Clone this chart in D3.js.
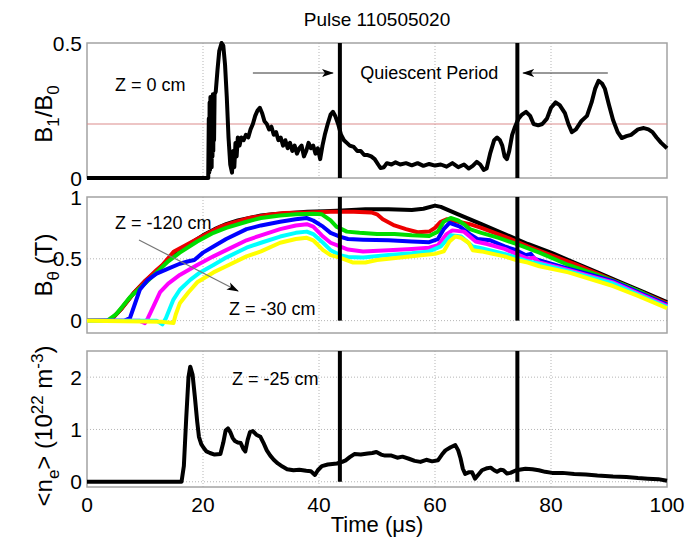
<!DOCTYPE html>
<html>
<head>
<meta charset="utf-8">
<script src="https://cdn.jsdelivr.net/npm/d3@7"></script>
<style>
body { margin: 0; background: #fff; }
text { font-family: "Liberation Sans", Arial, sans-serif; fill: #000; }
</style>
</head>
<body>
<svg id="chart"></svg>
<script>
// ---- data (time in microseconds) ----
const timeTicks = [0, 20, 40, 60, 80, 100];
const b1Ticks = [0, 0.5];
const bthTicks = [0, 0.5, 1];
const neTicks = [0, 1, 2];
const quiescentBounds = [43.6, 74.2];
const b1Threshold = 0.2;

// B1/B0 at Z = 0 cm
const b1Series = [[0,0],[20.9,0],[21.0,0.22],[21.07,0.02],[21.14,0.28],[21.21,0.03],[21.28,0.3],[21.35,0.05],[21.42,0.29],[21.49,0.04],[21.56,0.3],[21.63,0.08],[21.7,0.31],[21.77,0.1],[21.84,0.3],[21.91,0.14],[22.0,0.31],[22.2,0.32],[22.5,0.4],[22.8,0.47],[23.2,0.5],[23.5,0.49],[23.8,0.42],[24.1,0.3],[24.4,0.15],[24.7,0.05],[25.0,0.02],[25.2,0.1],[25.4,0.04],[25.6,0.13],[25.8,0.08],[26.0,0.15],[26.3,0.12],[26.6,0.15],[27.0,0.14],[27.4,0.16],[27.8,0.15],[28.2,0.18],[28.6,0.2],[29.0,0.23],[29.4,0.25],[29.8,0.26],[30.2,0.24],[30.6,0.21],[31.0,0.2],[31.4,0.18],[31.8,0.19],[32.2,0.16],[32.6,0.17],[33.0,0.14],[33.4,0.15],[33.8,0.12],[34.2,0.14],[34.6,0.11],[35.0,0.13],[35.4,0.1],[35.8,0.12],[36.2,0.09],[36.6,0.11],[37.0,0.12],[37.4,0.08],[37.8,0.1],[38.2,0.13],[38.6,0.11],[39.0,0.12],[39.4,0.09],[39.8,0.11],[40.2,0.07],[40.6,0.12],[41.0,0.16],[41.5,0.2],[42.0,0.235],[42.4,0.245],[42.8,0.23],[43.3,0.2],[43.8,0.16],[44.3,0.14],[44.8,0.13],[45.3,0.12],[46,0.115],[46.6,0.1],[47.2,0.1],[47.8,0.085],[48.4,0.085],[49,0.08],[49.6,0.07],[50.2,0.05],[50.6,0.037],[51.2,0.04],[51.7,0.055],[52.5,0.05],[53.2,0.058],[54,0.05],[55,0.055],[56,0.047],[57,0.055],[58,0.045],[59,0.052],[60,0.046],[61,0.05],[62,0.042],[63,0.055],[64,0.04],[65,0.05],[65.8,0.035],[66.5,0.045],[67.2,0.06],[67.8,0.05],[68.4,0.03],[68.9,0.035],[69.5,0.09],[70.2,0.14],[70.7,0.15],[71.2,0.14],[71.6,0.12],[72.0,0.08],[72.4,0.07],[72.8,0.1],[73.3,0.16],[73.8,0.19],[74.4,0.22],[75.0,0.235],[75.7,0.245],[76.4,0.23],[77.0,0.2],[77.8,0.195],[78.5,0.2],[79.3,0.22],[80.0,0.26],[80.8,0.28],[81.5,0.27],[82.4,0.24],[83.0,0.2],[83.6,0.17],[84.3,0.18],[85.2,0.21],[86.2,0.23],[87.0,0.28],[87.6,0.33],[88.2,0.36],[88.8,0.35],[89.3,0.33],[90.0,0.27],[90.7,0.215],[91.5,0.17],[92.2,0.148],[93,0.155],[93.8,0.16],[95,0.18],[96,0.185],[96.8,0.18],[97.5,0.17],[98.2,0.15],[99,0.13],[100,0.11]];

// B_theta for Z = -120 ... -30 cm
const bthBlack = [[0,0],[4,0],[6,0.1],[8,0.22],[10,0.32],[12,0.4],[14,0.49],[16,0.57],[18,0.63],[20,0.69],[22,0.74],[24,0.78],[26,0.81],[28,0.83],[30,0.85],[32,0.86],[35,0.87],[38,0.88],[41,0.885],[44,0.89],[48,0.9],[52,0.9],[56,0.895],[58,0.905],[60,0.93],[61,0.92],[64,0.86],[68,0.78],[72,0.7],[76,0.62],[80,0.55],[84,0.47],[88,0.39],[92,0.31],[96,0.23],[100,0.15]];
const bthRed = [[0,0],[4,0],[6,0.1],[8,0.22],[10,0.32],[12,0.41],[13,0.45],[15,0.56],[17,0.61],[19,0.66],[21,0.71],[23,0.76],[25,0.79],[28,0.83],[31,0.855],[34,0.87],[38,0.875],[42,0.88],[46,0.88],[49,0.875],[50,0.86],[51,0.82],[53,0.77],[55,0.74],[57,0.715],[59,0.72],[60,0.75],[61,0.8],[62,0.82],[64,0.8],[66,0.78],[68,0.75],[72,0.68],[76,0.6],[80,0.53],[84,0.46],[88,0.38],[92,0.3],[96,0.22],[100,0.14]];
const bthGreen = [[0,0],[3.5,0],[5,0.05],[7.4,0.19],[10,0.3],[12,0.39],[14,0.48],[16,0.55],[19,0.64],[21.8,0.71],[24,0.75],[27.5,0.8],[30,0.83],[33.3,0.85],[36,0.86],[39,0.865],[40.5,0.86],[42,0.81],[43,0.76],[44.8,0.72],[47,0.71],[50,0.7],[53,0.7],[56,0.69],[59,0.685],[60.5,0.72],[61.5,0.8],[62.7,0.83],[64,0.81],[65,0.78],[66,0.74],[68,0.71],[71,0.67],[74,0.62],[78,0.55],[83,0.45],[88,0.37],[92,0.3],[96,0.22],[100,0.13]];
const bthBlue = [[0,0],[6.5,0],[7.4,0.02],[8,0.1],[9.1,0.25],[10.5,0.33],[12,0.38],[14,0.42],[16,0.46],[17.5,0.48],[18.5,0.49],[20,0.55],[21.8,0.6],[24,0.66],[27.5,0.74],[30,0.77],[33.3,0.8],[36,0.82],[37.9,0.83],[39,0.81],[40.7,0.76],[42,0.71],[43.6,0.68],[45,0.66],[47.6,0.655],[52,0.65],[56,0.64],[59,0.635],[60.5,0.66],[61.5,0.74],[62.5,0.79],[64.3,0.76],[66,0.7],[67.3,0.66],[69.5,0.65],[72,0.6],[74,0.57],[75.6,0.53],[76.5,0.54],[77.2,0.5],[80,0.46],[83,0.42],[87,0.37],[90.7,0.32],[95,0.23],[100,0.13]];
const bthMagenta = [[0,0],[9,0],[10,-0.02],[10.5,0.02],[11.5,0.12],[12.6,0.23],[14,0.3],[16,0.37],[19,0.45],[21.8,0.52],[24,0.57],[27.5,0.65],[30,0.69],[33.3,0.74],[36,0.77],[37.9,0.78],[39,0.76],[40.7,0.68],[42,0.63],[43.6,0.6],[45,0.575],[47.6,0.56],[52,0.57],[56,0.58],[59,0.59],[60.5,0.61],[62,0.7],[63,0.73],[65,0.72],[66,0.68],[67,0.64],[69,0.62],[72,0.58],[74,0.54],[76,0.5],[77,0.51],[78,0.47],[83,0.41],[90.7,0.31],[95,0.22],[100,0.12]];
const bthCyan = [[0,0],[12,0],[13,-0.03],[13.6,0.02],[14.9,0.17],[16,0.25],[17.8,0.33],[19.5,0.39],[21.8,0.45],[24,0.51],[27.5,0.59],[30,0.63],[33.3,0.68],[36,0.71],[37.9,0.72],[39,0.7],[40.7,0.63],[42,0.57],[43.6,0.53],[45,0.515],[47.6,0.51],[52,0.53],[56,0.545],[59,0.56],[61,0.6],[62.7,0.69],[64.5,0.68],[65.5,0.64],[66.5,0.6],[68,0.585],[72,0.54],[74,0.51],[76,0.48],[78,0.46],[83,0.4],[90.7,0.3],[95,0.21],[100,0.11]];
const bthYellow = [[0,0],[13,-0.01],[14.9,-0.02],[15.3,0.05],[16,0.14],[17.5,0.23],[19,0.31],[21.8,0.39],[24,0.44],[27.5,0.52],[30,0.56],[33.3,0.63],[36,0.66],[37.9,0.67],[39,0.65],[40.7,0.57],[42,0.53],[43.6,0.51],[45.9,0.47],[48,0.47],[50,0.49],[54,0.51],[58,0.53],[60,0.54],[61.5,0.56],[62.5,0.64],[63.5,0.68],[64.5,0.67],[65.8,0.63],[66.5,0.57],[68,0.56],[72,0.52],[74,0.49],[76,0.47],[78,0.44],[83,0.39],[90.7,0.28],[95,0.2],[100,0.1]];
const bthColors = ["#000000", "#ee0000", "#00dd00", "#0000ff", "#ff00ff", "#00ffff", "#ffff00"];

// line-averaged density at Z = -25 cm
const neSeries = [[0,0],[16.3,0],[16.7,0.3],[17.1,1.2],[17.5,2.0],[17.8,2.2],[18.2,2.05],[18.6,1.62],[19.0,1.15],[19.3,0.86],[19.7,0.72],[20.1,0.65],[20.6,0.58],[21.2,0.55],[22.0,0.52],[23.0,0.53],[23.5,0.75],[23.9,0.98],[24.3,1.02],[24.7,0.95],[25.1,0.84],[25.5,0.78],[26.0,0.75],[26.5,0.74],[27.0,0.62],[27.3,0.58],[27.7,0.8],[28.1,0.95],[28.6,0.97],[29.2,0.9],[29.9,0.86],[30.4,0.75],[31.0,0.6],[31.6,0.5],[32.2,0.42],[32.9,0.35],[33.7,0.29],[34.5,0.24],[35.6,0.22],[36.6,0.23],[37.8,0.21],[38.6,0.2],[39.3,0.13],[39.8,0.22],[40.5,0.3],[41.5,0.33],[43.1,0.35],[44.0,0.38],[44.6,0.41],[45.3,0.47],[46.1,0.53],[47.2,0.52],[48.4,0.54],[49.2,0.55],[49.9,0.57],[50.7,0.52],[51.4,0.5],[52.5,0.5],[53.5,0.46],[54.4,0.48],[55.5,0.44],[56.5,0.4],[57.5,0.38],[58.5,0.42],[59.5,0.39],[60.5,0.41],[61.2,0.52],[61.8,0.6],[62.7,0.66],[63.5,0.7],[64.0,0.6],[64.4,0.45],[64.8,0.25],[65.2,0.15],[65.8,0.18],[66.4,0.18],[66.9,0.06],[67.5,0.14],[68.1,0.22],[69.0,0.26],[69.6,0.27],[70.2,0.22],[70.7,0.19],[71.3,0.23],[71.8,0.22],[72.4,0.16],[73.0,0.17],[74.0,0.22],[75.6,0.25],[76.8,0.24],[77.9,0.22],[79.0,0.19],[80.2,0.17],[82,0.17],[84,0.15],[86,0.14],[88,0.12],[90.7,0.1],[93,0.09],[95,0.07],[96.7,0.06],[98.5,0.05],[100,0.02]];

// ---- layout ----
const width = 686, height = 546;
const svg = d3.select("#chart").attr("width", width).attr("height", height);

const x = d3.scaleLinear().domain([0, 100]).range([87, 667]);

const yB1 = d3.scaleLinear().domain([0, 0.5]).range([178, 43]);
const yBth = d3.scaleLinear().domain([-0.1, 1]).range([333, 197]);
const yNe = d3.scaleLinear().domain([-0.1, 2.5]).range([487, 351]);

const defs = svg.append("defs");
defs.append("marker")
    .attr("id", "head")
    .attr("viewBox", "0 -5 12 10")
    .attr("refX", 11).attr("refY", 0)
    .attr("markerWidth", 12).attr("markerHeight", 10)
    .attr("markerUnits", "userSpaceOnUse")
    .attr("orient", "auto")
    .append("path")
    .attr("d", "M0,-4L12,0L0,4L3,0Z")
    .attr("fill", "#000");

function drawPanel(y, ticks, showX) {
    const g = svg.append("g");
    const [x0, x1] = x.range();
    const [yb, yt] = y.range();

    // dotted grid
    g.selectAll(".vgrid")
        .data(timeTicks.filter(t => t > 0 && t < 100))
        .join("line")
        .attr("x1", d => x(d)).attr("x2", d => x(d))
        .attr("y1", yt).attr("y2", yb)
        .attr("stroke", "#b5b5b5")
        .attr("stroke-dasharray", "1,2");
    g.selectAll(".hgrid")
        .data(ticks.filter(t => y(t) > yt + 1 && y(t) < yb - 1))
        .join("line")
        .attr("x1", x0).attr("x2", x1)
        .attr("y1", d => y(d)).attr("y2", d => y(d))
        .attr("stroke", "#b5b5b5")
        .attr("stroke-dasharray", "1,2");

    // frame
    g.append("rect")
        .attr("x", x0).attr("y", yt)
        .attr("width", x1 - x0).attr("height", yb - yt)
        .attr("fill", "none")
        .attr("stroke", "#a3a3a3")
        .attr("stroke-width", 1.5);

    // y tick labels
    g.selectAll(".ylab")
        .data(ticks)
        .join("text")
        .attr("x", x0 - 5)
        .attr("y", d => y(d))
        .attr("dy", "0.36em")
        .attr("text-anchor", "end")
        .style("font-size", "21px")
        .text(d => d);

    if (showX) {
        g.selectAll(".xlab")
            .data(timeTicks)
            .join("text")
            .attr("x", d => x(d))
            .attr("y", yb + 25)
            .attr("text-anchor", "middle")
            .style("font-size", "21px")
            .text(d => d);
    }
    return g;
}

function drawSeries(g, y, data, color, w) {
    const line = d3.line().x(d => x(d[0])).y(d => y(d[1]));
    g.append("path")
        .datum(data)
        .attr("d", line)
        .attr("fill", "none")
        .attr("stroke", color)
        .attr("stroke-width", w)
        .attr("stroke-linejoin", "round");
}

function drawBounds(g, y) {
    g.selectAll(".bound")
        .data(quiescentBounds)
        .join("line")
        .attr("x1", d => x(d)).attr("x2", d => x(d))
        .attr("y1", y(0)).attr("y2", y.range()[1])
        .attr("stroke", "#000")
        .attr("stroke-width", 4);
}

// Panel 1: B1/B0
const p1 = drawPanel(yB1, b1Ticks, false);
p1.append("line")
    .attr("x1", x(0)).attr("x2", x(100))
    .attr("y1", yB1(b1Threshold)).attr("y2", yB1(b1Threshold))
    .attr("stroke", "#dc8c8c")
    .attr("stroke-width", 1.2);
drawSeries(p1, yB1, b1Series, "#000", 4);
drawBounds(p1, yB1);

// Panel 2: B_theta
const p2 = drawPanel(yBth, bthTicks, false);
[bthBlack, bthRed, bthGreen, bthBlue, bthMagenta, bthCyan, bthYellow]
    .forEach((s, i) => drawSeries(p2, yBth, s, bthColors[i], 4));
drawBounds(p2, yBth);

// Panel 3: density
const p3 = drawPanel(yNe, neTicks, true);
drawSeries(p3, yNe, neSeries, "#000", 4);
drawBounds(p3, yNe);

// ---- annotations ----
svg.append("text")
    .attr("x", 377).attr("y", 26)
    .attr("text-anchor", "middle")
    .style("font-size", "19px")
    .text("Pulse 110505020");

svg.append("text")
    .attr("x", 115).attr("y", 91)
    .style("font-size", "18px")
    .text("Z = 0 cm");

svg.append("text")
    .attr("x", x(59)).attr("y", 79)
    .attr("text-anchor", "middle")
    .style("font-size", "18px")
    .text("Quiescent Period");

svg.append("line")
    .attr("x1", x(28.6)).attr("x2", x(42.4))
    .attr("y1", 73).attr("y2", 73)
    .attr("stroke", "#333").attr("stroke-width", 1)
    .attr("marker-end", "url(#head)");
svg.append("line")
    .attr("x1", x(89.8)).attr("x2", x(75.2))
    .attr("y1", 73).attr("y2", 73)
    .attr("stroke", "#333").attr("stroke-width", 1)
    .attr("marker-end", "url(#head)");

svg.append("text")
    .attr("x", 115).attr("y", 229)
    .style("font-size", "18px")
    .text("Z = -120 cm");
svg.append("text")
    .attr("x", 229).attr("y", 315)
    .style("font-size", "18px")
    .text("Z = -30 cm");
svg.append("line")
    .attr("x1", 139).attr("y1", 240)
    .attr("x2", 238).attr("y2", 291)
    .attr("stroke", "#777").attr("stroke-width", 1.2)
    .attr("marker-end", "url(#head)");

svg.append("text")
    .attr("x", 232).attr("y", 385)
    .style("font-size", "18px")
    .text("Z = -25 cm");

// axis titles
const l1 = svg.append("text")
    .attr("transform", "translate(52,114) rotate(-90)")
    .attr("text-anchor", "middle")
    .style("font-size", "24px");
l1.append("tspan").text("B");
l1.append("tspan").attr("dy", 7).style("font-size", "17px").text("1");
l1.append("tspan").attr("dy", -7).text("/B");
l1.append("tspan").attr("dy", 7).style("font-size", "17px").text("0");

const l2 = svg.append("text")
    .attr("transform", "translate(52,265) rotate(-90)")
    .attr("text-anchor", "middle")
    .style("font-size", "24px");
l2.append("tspan").text("B");
l2.append("tspan").attr("dy", 7).style("font-size", "17px").text("θ");
l2.append("tspan").attr("dy", -7).text(" (T)");

const l3 = svg.append("text")
    .attr("transform", "translate(52,426) rotate(-90)")
    .attr("text-anchor", "middle")
    .style("font-size", "24px");
l3.append("tspan").text("<n");
l3.append("tspan").attr("dy", 7).style("font-size", "17px").text("e");
l3.append("tspan").attr("dy", -7).text("> (10");
l3.append("tspan").attr("dy", -9).style("font-size", "17px").text("22");
l3.append("tspan").attr("dy", 9).text(" m");
l3.append("tspan").attr("dy", -9).style("font-size", "17px").text("-3");
l3.append("tspan").attr("dy", 9).text(")");

svg.append("text")
    .attr("x", 377).attr("y", 532)
    .attr("text-anchor", "middle")
    .style("font-size", "22px")
    .text("Time (μs)");
</script>
</body>
</html>
